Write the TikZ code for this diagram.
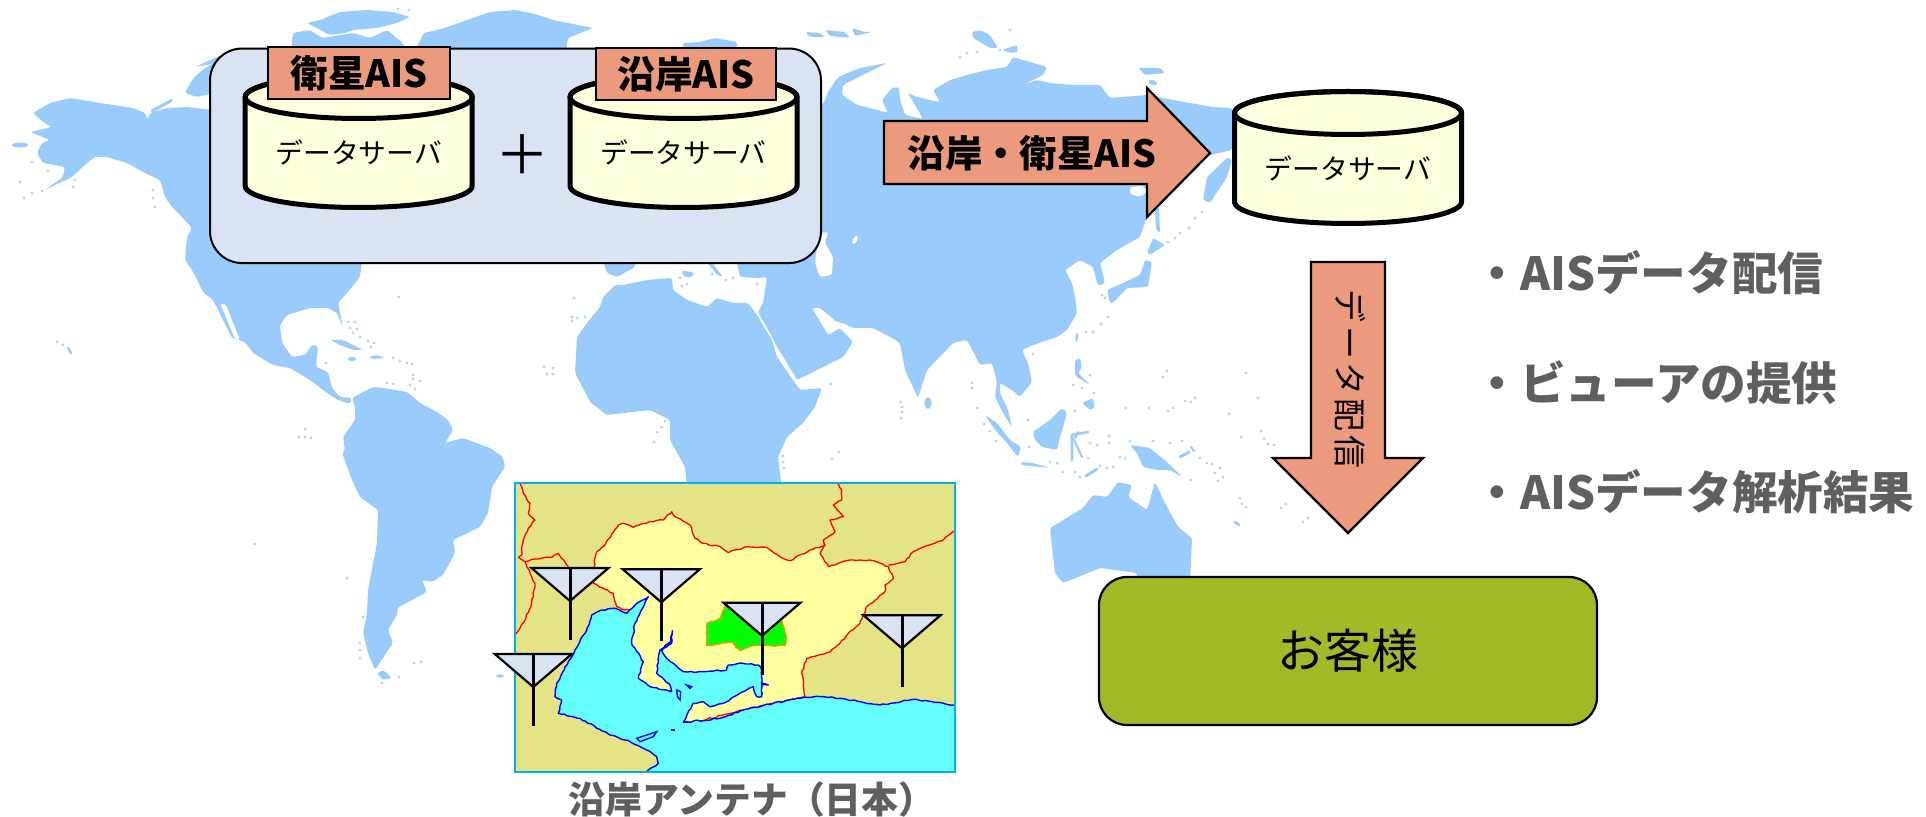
\documentclass[tikz,border=0pt]{standalone}
\usepackage{fontspec}
\usetikzlibrary{decorations.pathmorphing}
\setmainfont{Noto Sans CJK JP}
\definecolor{landc}{HTML}{9ACBFD}
\definecolor{dotc}{HTML}{BCD3F2}
\definecolor{salmon}{HTML}{EC9A7D}
\definecolor{panelbg}{HTML}{DAE3F3}
\definecolor{cylfill}{HTML}{FFFFDD}
\definecolor{custgreen}{HTML}{A6B727}
\definecolor{graytext}{HTML}{5F5F5F}
\definecolor{inlandk}{HTML}{E4E486}
\definecolor{aichi}{HTML}{FFFFA0}
\definecolor{seac}{HTML}{66FFFF}
\definecolor{frame}{HTML}{00B0F0}
\definecolor{greenedge}{HTML}{FF9600}
\pgfmathsetseed{7}
\tikzset{
  land/.style={fill=landc,draw=none,rounded corners=1.2pt},
  whitesea/.style={fill=white,draw=none,rounded corners=1pt},
  tagbox/.style={draw=black,fill=salmon,line width=1.1pt,inner sep=0pt,outer sep=0pt,font=\bfseries\fontsize{18.8}{20}\selectfont,text=black},
  bigarrow/.style={draw=black,fill=salmon,line width=1.1pt,line join=miter},
  graylabel/.style={text=graytext,font=\bfseries\fontsize{22.8}{24}\selectfont,anchor=west,inner sep=0pt},
  jagged/.style={decorate,decoration={random steps,segment length=1.6pt,amplitude=.35pt}},
  prefline/.style={draw=red,line width=.65pt,line join=round,jagged},
  seashape/.style={fill=seac,draw=blue,line width=.7pt,line join=round,jagged},
  dbcyl/.pic={
    \path[fill=cylfill,draw=black,line width=2.5pt,line join=round]
      (-113.5,0) -- (-113.5,89) arc[start angle=180,end angle=360,x radius=56.75pt,y radius=10.75pt] -- (113.5,0)
      arc[start angle=0,end angle=180,x radius=56.75pt,y radius=10.75pt] -- cycle;
    \draw[line width=2.5pt] (0,0) ellipse[x radius=56.75pt,y radius=10.75pt];
    \node[font=\fontsize{13.9}{15}\selectfont,inner sep=0pt] (-txt) at (0,55) {データサーバ};
  },
  antenna/.pic={
    \path[fill=panelbg,draw=black,line width=1.1pt,line join=miter] (-38.5,0) -- (38.5,0) -- (0,33) -- cycle;
    \draw[line width=1.5pt] (0,0) -- (0,72);
  }
}
\begin{document}
\begin{tikzpicture}[x=0.5pt,y=-0.5pt]
\useasboundingbox (0,0) rectangle (1926,817);
\fill[white] (0,0) rectangle (1926,817);
% ---------- world map ----------
% North and Central America
\path[land] (33,113) -- (50,103) -- (70,98) -- (100,103) -- (133,108) -- (145,113) -- (148,120) -- (150,113) -- (167,108) -- (187,107) -- (212,110) -- (362,262) -- (360,277) -- (347,293) -- (338,303) -- (343,327) -- (337,313) -- (328,308) -- (310,308) -- (287,315) -- (280,325) -- (282,343) -- (292,357) -- (305,355) -- (312,345) -- (318,346) -- (316,367) -- (328,372) -- (332,388) -- (340,397) -- (352,398) -- (350,404) -- (338,400) -- (327,393) -- (310,380) -- (290,368) -- (273,365) -- (253,353) -- (245,342) -- (232,338) -- (213,300) -- (203,292) -- (192,270) -- (185,260) -- (187,237) -- (192,228) -- (182,217) -- (172,207) -- (165,197) -- (160,180) -- (143,172) -- (127,163) -- (107,157) -- (95,157) -- (87,163) -- (72,177) -- (45,190) -- (63,177) -- (65,167) -- (43,163) -- (37,153) -- (42,143) -- (50,140) -- (30,132) -- (52,127) -- (43,122) -- cycle;
\path[whitesea] (220,303) -- (226,305) -- (240,340) -- (235,339) -- cycle;
% Arctic Canada and Greenland
\path[land] (185,93) -- (192,80) -- (200,72) -- (213,63) -- (225,60) -- (225,90) -- (197,97) -- cycle;
\path[land] (195,67) -- (217,57) -- (225,55) -- (212,64) -- cycle;
\path[land] (150,110) -- (173,98) -- (172,102) -- (152,113) -- cycle;
\path[land] (307,23) -- (320,20) -- (340,12) -- (367,10) -- (393,12) -- (410,17) -- (397,23) -- (377,28) -- (353,30) -- (345,33) -- (330,35) -- cycle;
\path[land] (293,33) -- (310,30) -- (322,38) -- (353,33) -- (370,38) -- (387,30) -- (403,43) -- (405,60) -- (290,60) -- cycle;
\path[land] (424,33) -- (445,28) -- (467,20) -- (490,12) -- (516,10) -- (535,14) -- (553,20) -- (593,28) -- (568,38) -- (565,60) -- (410,60) -- cycle;
\path[land] (682,60) -- (683,43) -- (700,42) -- (715,38) -- (737,42) -- (738,60) -- cycle;
% Eurasia
\path[land] (815,117) -- (825,100) -- (828,92) -- (838,77) -- (860,68) -- (887,63) -- (863,75) -- (843,85) -- (842,95) -- (857,105) -- (870,108) -- (888,113) -- (882,100) -- (892,88) -- (899,87) -- (900,100) -- (905,115) -- (923,119) -- (912,100) -- (908,93) -- (917,97) -- (930,100) -- (940,102) -- (933,90) -- (950,80) -- (967,75) -- (987,70) -- (1007,67) -- (1013,57) -- (1030,62) -- (1047,67) -- (1043,75) -- (1023,85) -- (1037,80) -- (1050,83) -- (1073,85) -- (1100,85) -- (1110,98) -- (1123,97) -- (1147,95) -- (1173,100) -- (1213,107) -- (1232,108) -- (1232,150) -- (1210,155) -- (1147,217) -- (1140,237) -- (1117,250) -- (1100,263) -- (1105,282) -- (1100,286) -- (1097,283) -- (1093,267) -- (1080,260) -- (1065,270) -- (1072,283) -- (1075,297) -- (1077,313) -- (1067,330) -- (1057,337) -- (1033,345) -- (1022,350) -- (1028,363) -- (1032,382) -- (1020,397) -- (1012,390) -- (1000,383) -- (1000,393) -- (1008,410) -- (1012,427) -- (1003,413) -- (995,397) -- (997,382) -- (992,363) -- (980,365) -- (967,340) -- (953,343) -- (927,370) -- (918,398) -- (905,370) -- (900,343) -- (892,338) -- (873,328) -- (853,328) -- (843,323) -- (837,322) -- (820,308) -- (812,308) -- (828,335) -- (840,328) -- (853,342) -- (843,357) -- (797,380) -- (787,363) -- (777,347) -- (770,333) -- (758,312) -- (763,303) -- (767,277) -- (757,278) -- (740,277) -- (737,263) -- (730,255) -- cycle;
\path[whitesea] (822,233) -- (828,232) -- (825,243) -- (833,257) -- (832,275) -- (820,277) -- (815,263) -- (817,247) -- cycle;
\path[whitesea] (852,240) -- (857,235) -- (858,240) -- (853,245) -- cycle;
\path[whitesea] (1130,187) -- (1143,186) -- (1147,192) -- (1140,197) -- (1130,194) -- cycle;
% Europe below the panel
\path[land] (603,260) -- (607,273) -- (617,277) -- (635,267) -- (635,260) -- cycle;
\path[land] (710,260) -- (723,277) -- (717,275) -- (707,262) -- cycle;
\path[land] (682,270) -- (695,273) -- (690,278) -- (683,276) -- cycle;
\path[land] (640,260) -- (700,260) -- (700,264) -- (640,264) -- cycle;
% Africa
\path[land] (615,285) -- (603,297) -- (600,307) -- (587,323) -- (577,337) -- (575,373) -- (583,388) -- (590,402) -- (607,415) -- (633,412) -- (650,410) -- (670,420) -- (670,440) -- (685,467) -- (687,490) -- (782,490) -- (778,457) -- (787,437) -- (803,423) -- (815,407) -- (822,388) -- (800,390) -- (793,380) -- (777,357) -- (772,340) -- (757,315) -- (748,303) -- (733,303) -- (717,298) -- (707,307) -- (687,300) -- (673,290) -- (672,278) -- (647,280) -- (623,285) -- cycle;
% South America
\path[land] (352,398) -- (355,407) -- (355,420) -- (343,437) -- (345,450) -- (342,453) -- (352,480) -- (360,497) -- (378,510) -- (377,543) -- (368,590) -- (367,613) -- (363,633) -- (368,653) -- (375,670) -- (393,643) -- (388,630) -- (398,613) -- (397,608) -- (427,592) -- (422,580) -- (432,582) -- (443,575) -- (455,553) -- (453,540) -- (480,527) -- (488,513) -- (492,487) -- (505,467) -- (503,457) -- (490,448) -- (463,438) -- (445,443) -- (453,430) -- (448,420) -- (437,412) -- (420,403) -- (407,392) -- (383,388) -- (373,387) -- (363,392) -- cycle;
\path[land] (377,673) -- (383,670) -- (392,678) -- (383,680) -- cycle;
% Australia and New Guinea
\path[land] (1050,528) -- (1083,508) -- (1093,495) -- (1107,497) -- (1118,482) -- (1132,485) -- (1128,497) -- (1147,510) -- (1155,482) -- (1165,503) -- (1178,527) -- (1192,538) -- (1190,585) -- (1137,585) -- (1137,573) -- (1100,568) -- (1083,575) -- (1063,583) -- (1055,573) -- (1052,547) -- cycle;
\path[land] (1130,445) -- (1150,448) -- (1168,463) -- (1182,477) -- (1170,470) -- (1157,470) -- (1143,467) -- (1138,455) -- cycle;
% Islands of Asia
\path[land] (985,415) -- (997,423) -- (1010,440) -- (1021,447) -- (1018,457) -- (1007,443) -- (995,430) -- cycle;
\path[land] (1021,462) -- (1033,463) -- (1050,468) -- (1040,467) -- (1021,465) -- cycle;
\path[land] (1033,432) -- (1050,420) -- (1062,408) -- (1067,413) -- (1063,427) -- (1060,437) -- (1057,450) -- (1042,447) -- (1035,440) -- cycle;
\draw[landc,line width=1.3pt,line join=round,line cap=round] (1088,432) -- (1072,435) -- (1072,460);
\draw[landc,line width=1.1pt,line cap=round] (1074,440) -- (1082,457);
\draw[landc,line width=1.1pt,line cap=round] (1078,432) -- (1075,438);
\path[land] (1082,403) -- (1093,398) -- (1095,407) -- (1090,410) -- cycle;
\path[land] (1075,360) -- (1080,358) -- (1082,367) -- (1078,373) -- (1090,385) -- (1078,378) -- (1075,375) -- cycle;
\path[land] (1076,333) -- (1079,333) -- (1077,342) -- (1075,341) -- cycle;
\fill[landc] (928,403) ellipse[x radius=1.7pt,y radius=3pt];
\draw[landc,line width=1.5pt,line cap=round] (1086,476) -- (1097,469);
\draw[landc,line width=1.5pt,line cap=round] (1180,457) -- (1189,452);
\draw[landc,line width=1pt,line cap=round] (1191,447) -- (1194,451);
\draw[landc,line width=1.4pt,line cap=round] (1235,522) -- (1239,525);
% Japan, Sakhalin, Kamchatka
\path[land] (1147,253) -- (1153,238) -- (1165,245) -- (1150,255) -- cycle;
\path[land] (1107,290) -- (1123,283) -- (1140,275) -- (1145,260) -- (1152,262) -- (1148,287) -- (1127,288) -- (1113,303) -- (1110,303) -- cycle;
\path[land] (1155,207) -- (1159,207) -- (1160,233) -- (1156,230) -- cycle;
\path[land] (1228,157) -- (1207,177) -- (1203,200) -- (1210,203) -- (1227,177) -- (1232,160) -- cycle;
% Arctic Russia
\path[land] (972,32) -- (980,30) -- (990,35) -- (998,48) -- (990,48) -- (973,38) -- cycle;
\path[land] (1002,50) -- (1017,45) -- (1018,52) -- (1010,53) -- cycle;
\path[land] (1138,68) -- (1160,68) -- (1165,73) -- (1145,75) -- cycle;
\path[land] (1148,80) -- (1155,80) -- (1158,85) -- (1150,85) -- cycle;
\path[land] (805,32) -- (820,33) -- (825,37) -- (810,37) -- cycle;
\path[land] (825,30) -- (845,32) -- (850,38) -- (830,36) -- cycle;
\path[land] (852,28) -- (865,32) -- (872,32) -- (855,36) -- cycle;
% Caribbean
\path[land] (330,340) -- (343,340) -- (363,350) -- (353,350) -- (340,345) -- cycle;
\path[land] (368,357) -- (378,355) -- (385,358) -- (373,359) -- cycle;
\fill[landc] (352,359) ellipse[x radius=2pt,y radius=1pt];
\fill[landc] (20,145) ellipse[x radius=4pt,y radius=1.2pt];
\fill[landc] (500,676) ellipse[x radius=2pt,y radius=.8pt];
\draw[landc,line width=1.2pt,line cap=round] (68,348) -- (71,353);
% small islands
\foreach \xa/\ya in {57/342,63/345,20/182,24/198,32/193,42/191,32/162,48/171,73/187,75/180,153/190,153/198,155/207,399/297,574/298,572/317,572/321,577/318,585/317,544/367,553/368,547/374,553/374,665/421,662/427,657/432,654/442,305/429,299/437,305/437,311/438,255/544,347/578,363/617,360/643,360/650,360/658,414/663,421/662,382/683,399/677,348/322,355/322,350/328,357/329,353/333,360/337,368/341,374/343,371/347,393/358,400/361,407/363,412/364,413/375,413/379,420/381,410/385,415/389,387/383,393/384,326/363,901/402,902/407,902/412,901/418,972/383,972/388,977/408,984/424,990/431,996/441,831/384,783/456,783/462,784/468,839/452,832/459,1102/295,1105/298,1108/317,1101/324,1093/332,1086/332,1033/354,1090/375,1073/385,1082/388,1094/393,1028/420,1075/411,1167/371,1163/377,1195/398,1191/402,1185/401,1173/408,1168/411,1149/408,1126/408,1246/373,1258/398,1229/414,1241/437,1261/431,1264/439,1268/444,1274/445,1090/443,1097/445,1109/436,1109/443,1130/441,1153/441,1170/443,1182/441,1088/458,1120/457,1125/458,1050/462,1057/463,1063/472,1075/472,1080/477,1100/466,1107/468,1113/467,1200/458,1207/463,1212/464,1220/468,1215/473,1223/477,1218/481,1191/480,1240/498,1242/504,1246/507,1286/504,1281/508,1308/518,1303/522,1029/447,1202/212,1195/218,1189/228,1180/233,1175/238,1168/242,960/57,967/53,977/52,680/278,687/284,682/286,712/274,726/280,733/278,757/284,398/9,409/10,1000/50,1010/30}
  {\fill[dotc] (\xa,\ya) circle[radius=.85pt];}
% ---------- inset map ----------
\node[draw=frame,fill=inlandk,line width=1pt,minimum width=220pt,minimum height=144.5pt,inner sep=0pt,outer sep=0pt] (inset) at (735,627.5) {};
\begin{scope}
\clip (inset.south west) rectangle (inset.north east);
\begin{scope}[shift={(490,470)},x=0.16667pt,y=-0.16667pt]
\path[fill=aichi,prefline] (315,265) -- (320,245) -- (345,225) -- (385,165) -- (400,160) -- (430,172) -- (480,155) -- (520,150) -- (545,125) -- (555,140) -- (600,165) -- (615,205) -- (640,220) -- (690,230) -- (715,248) -- (770,230) -- (830,232) -- (870,260) -- (900,272) -- (960,240) -- (1005,225) -- (990,250) -- (1015,290) -- (1080,270) -- (1150,272) -- (1195,290) -- (1210,325) -- (1185,345) -- (1185,365) -- (1130,410) -- (1110,460) -- (1075,490) -- (1050,520) -- (1020,545) -- (950,565) -- (935,610) -- (945,680) -- (850,700) -- (760,720) -- (600,760) -- (430,700) -- (420,420) -- (405,420) -- (380,410) -- (370,370) -- (310,340) -- cycle;
\path[fill=green,draw=greenedge,line width=.6pt,jagged] (705,405) -- (690,445) -- (650,460) -- (650,527) -- (725,517) -- (750,542) -- (790,527) -- (885,527) -- (890,500) -- (875,450) -- (816,480) -- cycle;
\path[seashape] (1420,708) -- (1392,705) -- (1270,688) -- (1170,705) -- (1050,685) -- (990,680) -- (940,682) -- (850,700) -- (760,720) -- (690,745) -- (580,757) -- (610,700) -- (640,695) -- (660,710) -- (700,700) -- (760,665) -- (790,650) -- (800,680) -- (815,680) -- (815,645) -- (835,645) -- (815,640) -- (815,600) -- (805,585) -- (760,580) -- (715,585) -- (710,600) -- (640,605) -- (580,605) -- (530,565) -- (515,540) -- (545,520) -- (547,482) -- (542,515) -- (510,540) -- (500,610) -- (540,645) -- (545,665) -- (480,650) -- (445,625) -- (460,575) -- (425,520) -- (435,460) -- (475,380) -- (440,400) -- (410,430) -- (375,415) -- (335,420) -- (305,435) -- (290,480) -- (255,540) -- (200,640) -- (195,680) -- (215,690) -- (205,730) -- (270,745) -- (360,795) -- (420,815) -- (470,840) -- (500,860) -- (505,880) -- (470,905) -- (460,930) -- (1420,930) -- cycle;
\draw[blue,line width=.7pt] (560,660) -- (572,665) -- (570,690) -- (562,680) -- cycle;
\draw[blue,line width=.7pt] (590,645) -- (605,650) -- (600,655) -- cycle;
\fill[blue] (543,776) rectangle (555,783);
\draw[blue,line width=.7pt] (440,805) -- (500,785) -- (490,800) -- (450,815) -- cycle;
\draw[prefline] (90,35) -- (100,70) -- (120,100) -- (115,130) -- (135,150) -- (115,175) -- (100,210) -- (95,255) -- (85,262) -- (105,275) -- (125,268) -- (185,262) -- (205,250) -- (215,265) -- (235,290);
\draw[prefline] (105,275) -- (125,320) -- (135,340) -- (125,400) -- (105,450) -- (70,500);
\draw[prefline] (1040,35) -- (1055,60) -- (1055,90) -- (1030,105) -- (1060,140) -- (1020,150) -- (1035,185) -- (1000,210) -- (1005,225);
\draw[prefline] (1195,285) -- (1245,275) -- (1270,245) -- (1290,235) -- (1360,210) -- (1400,175);
\end{scope}
\end{scope}
\draw[frame,line width=1pt] (inset.south west) rectangle (inset.north east);
\pic at (570,568) {antenna};
\pic at (661.3,569.3) {antenna};
\pic at (762,602.7) {antenna};
\pic at (902,615.3) {antenna};
\pic at (533.3,654) {antenna};
\node[text=graytext,font=\bfseries\fontsize{18.4}{20}\selectfont,inner sep=0pt] (insetlabel) at (752,800) {沿岸アンテナ（日本）};
% ---------- main shapes ----------
\node[draw=black,fill=panelbg,line width=1pt,rounded corners=16pt,minimum width=305.5pt,minimum height=107.25pt,inner sep=0pt,outer sep=0pt] (group) at (515.5,155.8) {};
\pic (cylsat) at (358.7,97) {dbcyl};
\pic (cylcoast) at (683.5,97) {dbcyl};
\node[tagbox,minimum width=91pt,minimum height=26pt] (tagsat) at (359,73) {衛星AIS};
\node[tagbox,minimum width=90pt,minimum height=26pt] (tagcoast) at (686,74) {沿岸AIS};
\node[inner sep=0pt,font=\fontsize{27}{28}\selectfont] (plus) at (522,155) {＋};
\pic (cylall) at (1348,113) {dbcyl};
\draw[bigarrow] (884,121) -- (1147,121) -- (1147,88) -- (1210,153) -- (1147,217) -- (1147,184) -- (884,184) -- cycle;
\node[inner sep=0pt,font=\bfseries\fontsize{18.7}{20}\selectfont] (arrowtext) at (1032,153) {沿岸・衛星AIS};
\draw[bigarrow] (1311,262) -- (1385,262) -- (1385,458) -- (1423,458) -- (1348,533) -- (1273,458) -- (1311,458) -- cycle;
\node[inner sep=0pt,rotate=-90,font=\fontsize{16.5}{18}\selectfont] (downtext) at (1350,379) {\addfontfeature{LetterSpace=10}データ配信};
\node[draw=black,fill=custgreen,line width=1.1pt,rounded corners=14pt,minimum width=249pt,minimum height=74pt,inner sep=0pt,outer sep=0pt,font=\fontsize{23.5}{25}\selectfont] (customer) at (1348,651) {お客様};
\node[graylabel] (item1) at (1474,273) {・AISデータ配信};
\node[graylabel] (item2) at (1474,383) {・ビューアの提供};
\node[graylabel] (item3) at (1474,492) {・AISデータ解析結果};
\end{tikzpicture}
\end{document}
